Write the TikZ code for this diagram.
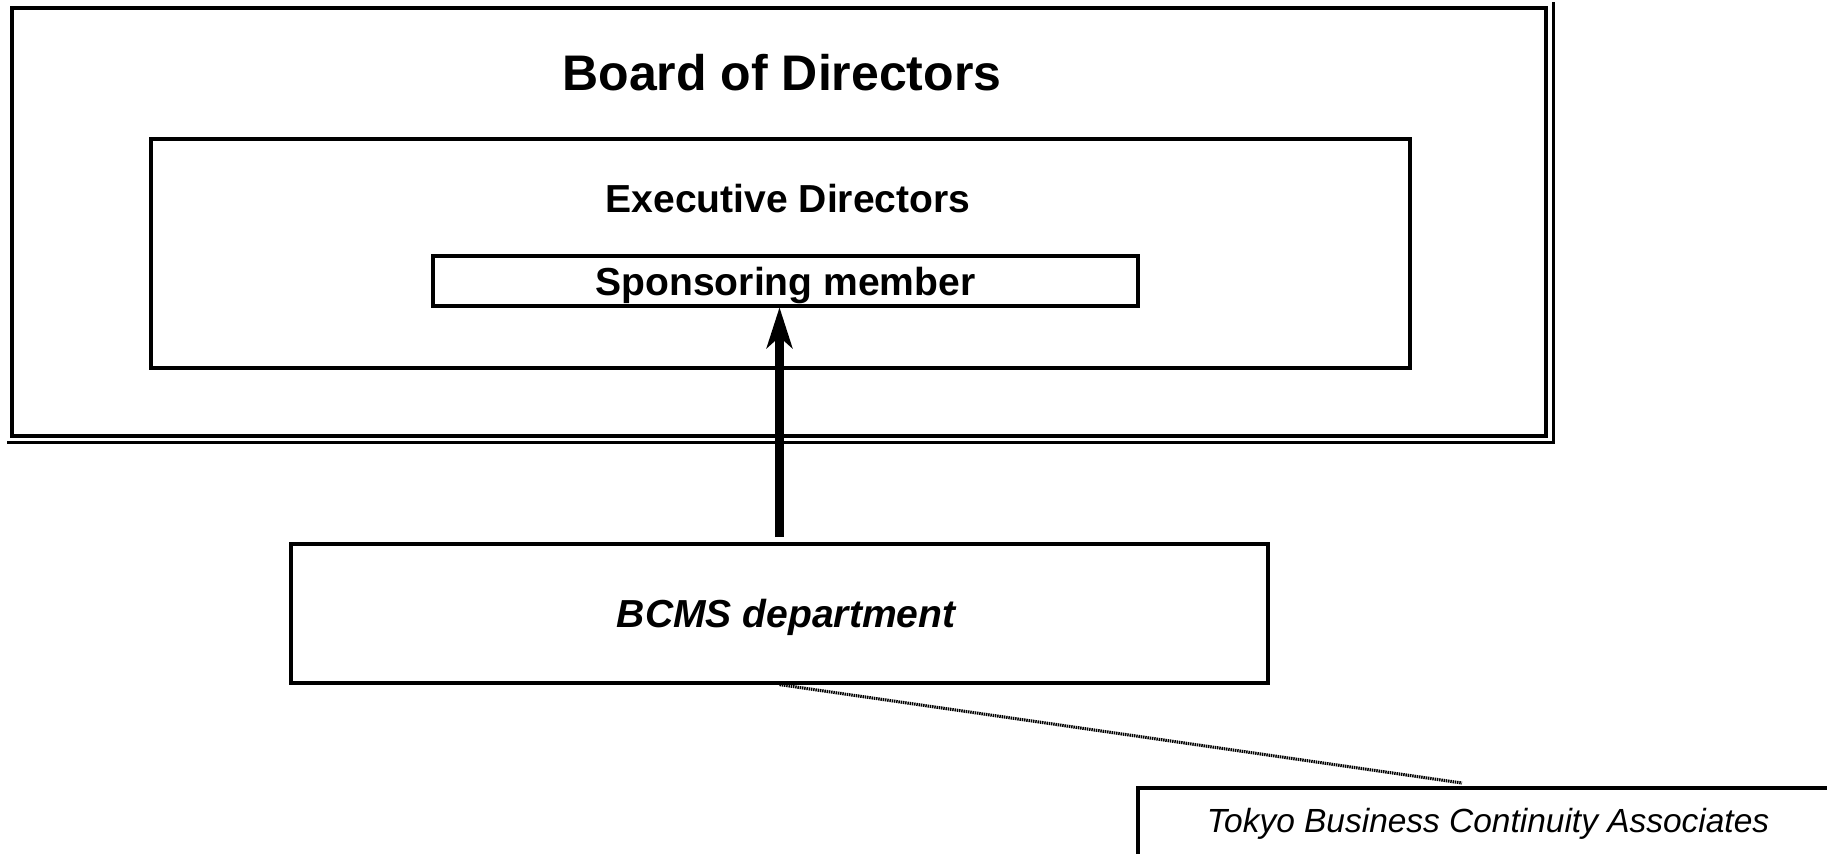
\documentclass[tikz,border=0pt]{standalone}
\usepackage{fontspec}
\setmainfont{Liberation Sans}
\usetikzlibrary{arrows.meta,calc}

\begin{document}
\begin{tikzpicture}[x=0.75pt,y=0.75pt,yscale=-1,xscale=1,
  box/.style={draw, rectangle, inner sep=0pt, line width=2.6pt},
  big/.style={font=\fontsize{37.5}{45}\selectfont\bfseries},
  mid/.style={font=\fontsize{29.3}{35}\selectfont\bfseries},
  midit/.style={font=\fontsize{29.3}{35}\selectfont\bfseries\itshape},
  note/.style={font=\fontsize{25.1}{30}\selectfont\itshape}]
\useasboundingbox (0,0) rectangle (1827,853);

%Shape: Rectangle [Board]
\node (board) [box, minimum width=1150.5pt, minimum height=321pt] at (779,222) {};
%Straight Lines [Board double edge]
\draw [line width=2.2pt] ($(board.south west)+(-3,5)$) -| ($(board.north east)+(6,-4)$);
% Text Node
\node (boardlbl) [big] at (782,73) {Board of Directors};

%Shape: Rectangle [Executive]
\node (exec) [box, minimum width=944.25pt, minimum height=171.75pt] at (780.5,253.5) {};
% Text Node
\node (execlbl) [mid] at (788,199) {Executive Directors};

%Shape: Rectangle [Sponsor]
\node (sponsor) [box, line width=2.4pt, minimum width=528.75pt, minimum height=37.5pt, text depth=0pt, mid] at (785.5,281) {Sponsoring member};

%Shape: Rectangle [BCMS]
\node (bcms) [box, line width=2.4pt, minimum width=732.75pt, minimum height=104.25pt, text depth=0pt, midit] at (779.5,613.5) {\hspace{10pt}BCMS department};

%Shape: Rectangle [TBCA]
\node (tbca) [box, line width=2.4pt, minimum width=525pt, minimum height=54pt, note] at (1488,824) {Tokyo Business Continuity Associates};

%Straight Lines [report]
\draw [line width=6.5pt, shorten <=4pt, -{Stealth[length=31pt, width=20pt, inset=9pt, line width=0pt]}] (bcms.north) -- (bcms.north |- sponsor.south);

%Straight Lines [support]
\coordinate (dotend) at (1462,783);
\draw [line width=2.3pt, dash pattern={on 1.1pt off 0.6pt}] (bcms.south) -- (dotend);

\end{tikzpicture}
\end{document}
